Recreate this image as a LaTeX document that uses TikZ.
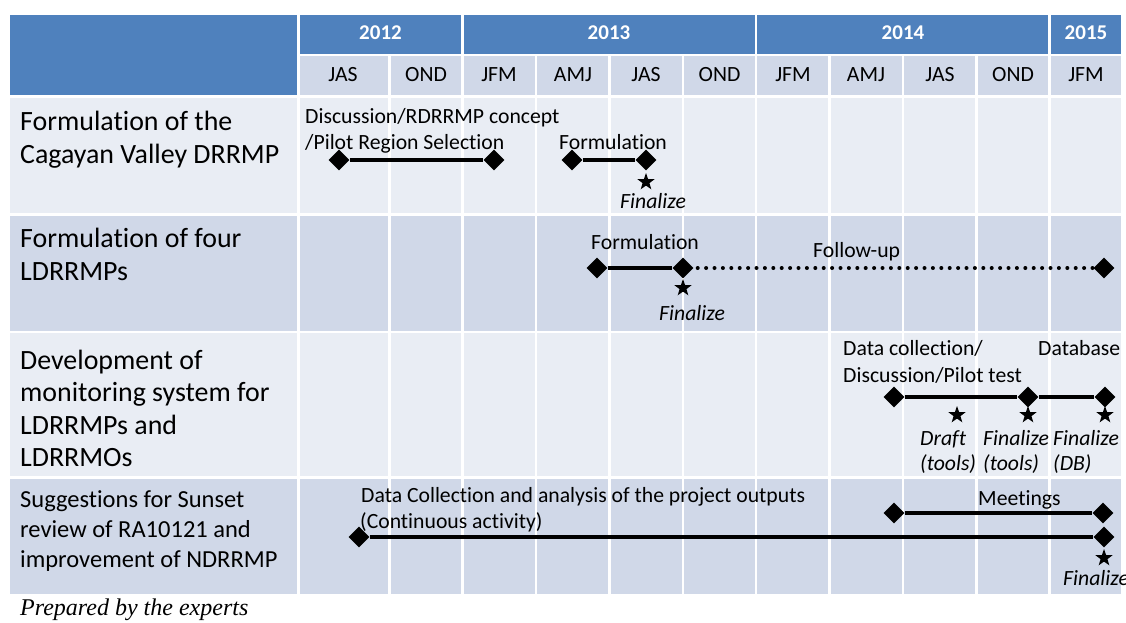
\documentclass[tikz,border=0pt]{standalone}
\usepackage{fontspec}
\setmainfont{Carlito}[Ligatures=CommonOff]
\newfontfamily\timesfam{Liberation Serif}
\usetikzlibrary{shapes.geometric}
\definecolor{hdrblue}{HTML}{4F81BD}
\definecolor{bandA}{HTML}{E9EDF4}
\definecolor{bandB}{HTML}{D0D8E8}
\begin{document}
\begin{tikzpicture}[x=1pt,y=-1pt,
  cell/.style={draw=white, line width=2.5pt},
  lbl/.style={anchor=base west, inner sep=0pt, font=\fontsize{27.9}{33}\selectfont},
  lblsm/.style={anchor=base west, inner sep=0pt, font=\fontsize{24.5}{30}\selectfont},
  act/.style={anchor=base west, inner sep=0pt, font=\fontsize{21.7}{26}\selectfont},
  actit/.style={anchor=base west, inner sep=0pt, font=\fontsize{21.7}{26}\selectfont\itshape},
  ms/.style={diamond, fill=black, inner sep=0pt, minimum width=21pt, minimum height=21pt},
  fin/.style={star, star points=5, star point ratio=2.5, fill=black, inner sep=0pt, minimum size=18pt},
  bar/.style={line width=4pt},
  dotbar/.style={line width=4pt, line cap=round, dash pattern=on 0pt off 8.4pt, shorten <=4pt},
  yr/.style={font=\fontsize{21}{25}\selectfont\bfseries, text=white},
  qt/.style={font=\fontsize{21.7}{25}\selectfont},
]
\useasboundingbox[fill=white] (0,0) rectangle (1126,622);

% header
\path[cell, fill=hdrblue] (9,14) rectangle (298.5,96.5);
\path[cell, fill=hdrblue] (298.5,14) rectangle (462.5,55);
\path[cell, fill=hdrblue] (462.5,14) rectangle (756,55);
\path[cell, fill=hdrblue] (756,14) rectangle (1049.5,55);
\path[cell, fill=hdrblue] (1049.5,14) rectangle (1122.5,55);
\foreach \xa/\xb in {298.5/389.5, 389.5/462.5, 462.5/536, 536/609.5, 609.5/683, 683/756, 756/829.5, 829.5/903, 903/976.5, 976.5/1049.5, 1049.5/1122.5}
  \path[cell, fill=bandB] (\xa,55) rectangle (\xb,96.5);

% body rows
\foreach \ya/\yb/\col in {96.5/214.5/bandA, 214.5/332/bandB, 332/477.5/bandA, 477.5/595/bandB} {
  \path[cell, fill=\col] (9,\ya) rectangle (298.5,\yb);
  \foreach \xa/\xb in {298.5/389.5, 389.5/462.5, 462.5/536, 536/609.5, 609.5/683, 683/756, 756/829.5, 829.5/903, 903/976.5, 976.5/1049.5, 1049.5/1122.5}
    \path[cell, fill=\col] (\xa,\ya) rectangle (\xb,\yb);
}

% year labels
\node[yr] (y2012) at (380.5,33) {2012};
\node[yr] (y2013) at (609,33) {2013};
\node[yr] (y2014) at (903,33) {2014};
\node[yr] (y2015) at (1086,33) {2015};

% quarter labels
\node[qt] (q1) at (343,75) {JAS};
\node[qt] (q2) at (426,75) {OND};
\node[qt] (q3) at (499,75) {JFM};
\node[qt] (q4) at (573,75) {AMJ};
\node[qt] (q5) at (646,75) {JAS};
\node[qt] (q6) at (719.5,75) {OND};
\node[qt] (q7) at (793,75) {JFM};
\node[qt] (q8) at (866,75) {AMJ};
\node[qt] (q9) at (940,75) {JAS};
\node[qt] (q10) at (1013,75) {OND};
\node[qt] (q11) at (1086,75) {JFM};

% row labels
\node[lbl] (r1a) at (20,130) {Formulation of the};
\node[lbl] (r1b) at (20,163) {Cagayan Valley DRRMP};
\node[lbl] (r2a) at (20,247) {Formulation of four};
\node[lbl] (r2b) at (20,280) {LDRRMPs};
\node[lbl] (r3a) at (20,369) {Development of};
\node[lbl] (r3b) at (20,401.5) {monitoring system for};
\node[lbl] (r3c) at (20,434) {LDRRMPs and};
\node[lbl] (r3d) at (20,466.5) {LDRRMOs};
\node[lblsm] (r4a) at (20,507) {Suggestions for Sunset};
\node[lblsm] (r4b) at (20,537) {review of RA10121 and};
\node[lblsm] (r4c) at (20,567) {improvement of NDRRMP};

% row 1
\node[act] (t1a) at (305,123) {Discussion/RDRRMP concept};
\node[act] (t1b) at (305,149) {/Pilot Region Selection};
\node[act] (t1c) at (559,149) {Formulation};
\node[ms] (d1a) at (339,160) {};
\node[ms] (d1b) at (494,160) {};
\node[ms] (d1c) at (572,160) {};
\node[ms] (d1d) at (646,160) {};
\draw[bar] (d1a) -- (d1b);
\draw[bar] (d1c) -- (d1d);
\node[fin] (s1) at (646,182) {};
\node[actit] (f1) at (620,208) {Finalize};

% row 2
\node[act] (t2a) at (591,249) {Formulation};
\node[act] (t2b) at (813,257) {Follow-up};
\node[ms] (d2a) at (597,268) {};
\node[ms] (d2b) at (683,268) {};
\node[ms] (d2c) at (1104,268) {};
\draw[bar] (d2a) -- (d2b);
\draw[dotbar] (d2b) -- (d2c);
\node[fin] (s2) at (683,288) {};
\node[actit] (f2) at (659,320) {Finalize};

% row 3
\node[act] (t3a) at (843,355) {Data collection/};
\node[act] (t3b) at (843,382) {Discussion/Pilot test};
\node[act] (t3c) at (1038,355) {Database};
\node[ms] (d3a) at (894,397) {};
\node[ms] (d3b) at (1028,397) {};
\node[ms] (d3c) at (1105,397) {};
\draw[bar] (d3a) -- (d3b);
\draw[bar] (d3b) -- (d3c);
\node[fin] (s3a) at (957,415) {};
\node[fin] (s3b) at (1028,415) {};
\node[fin] (s3c) at (1105,415) {};
\node[actit] (f3a) at (920,445) {Draft};
\node[actit] (f3b) at (920,470) {(tools)};
\node[actit] (f3c) at (983,445) {Finalize};
\node[actit] (f3d) at (983,470) {(tools)};
\node[actit] (f3e) at (1053,445) {Finalize};
\node[actit] (f3f) at (1053,470) {(DB)};

% row 4
\node[act] (t4a) at (978,505) {Meetings};
\node[act] (t4b) at (361,502) {Data Collection and analysis of the project outputs};
\node[act] (t4c) at (360,528) {(Continuous activity)};
\node[ms] (d4a) at (894,513) {};
\node[ms] (d4b) at (1103,513) {};
\node[ms] (d4c) at (359,537) {};
\node[ms] (d4d) at (1104,537) {};
\draw[bar] (d4a) -- (d4b);
\draw[bar] (d4c) -- (d4d);
\node[fin] (s4) at (1104,558) {};
\node[actit] (f4) at (1063,585) {Finalize};

% footer
\node[anchor=base west, inner sep=0pt, font={\timesfam\fontsize{24}{28}\selectfont\itshape}] (foot) at (20,615) {Prepared by the experts};
\end{tikzpicture}
\end{document}
